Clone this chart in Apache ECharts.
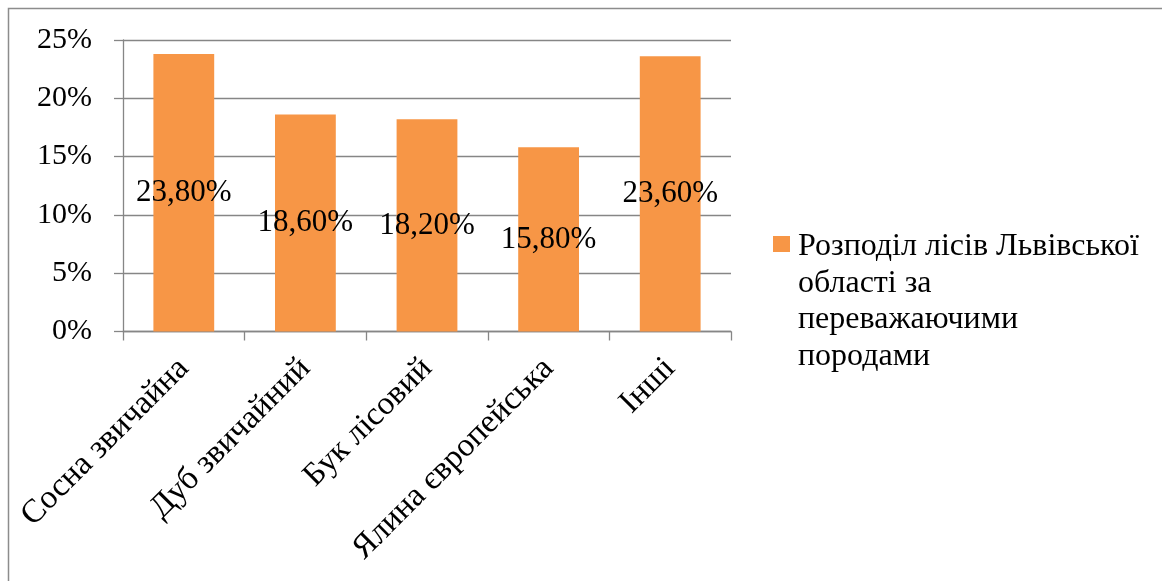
<!DOCTYPE html>
<html>
<head>
<meta charset="utf-8">
<script src="https://cdn.jsdelivr.net/npm/echarts@6/dist/echarts.min.js"></script>
<style>
html,body{margin:0;padding:0;background:#fff;}
#chart{width:1162px;height:581px;}
</style>
</head>
<body>
<div id="chart"></div>
<script>
const categories = ['Сосна звичайна', 'Дуб звичайний', 'Бук лісовий', 'Ялина європейська', 'Інші'];
const values = [23.8, 18.6, 18.2, 15.8, 23.6];
const seriesName = 'Розподіл лісів Львівської\nобласті за\nпереважаючими\nпородами';
const yTicks = { min: 0, max: 25, interval: 5 };

const FONT = "'Liberation Serif', 'Times New Roman', serif";
const chart = echarts.init(document.getElementById('chart'), null, { renderer: 'canvas' });
chart.setOption({
  animation: false,
  backgroundColor: '#ffffff',
  graphic: [{
    type: 'rect',
    shape: { x: 8.5, y: 8.5, width: 1200, height: 620 },
    style: { fill: 'none', stroke: '#8c8c8c', lineWidth: 1.5 },
    silent: true, z: -1
  }],
  grid: { left: 123, right: 431, top: 40, bottom: 249.5, containLabel: false },
  legend: {
    left: 773, top: 228,
    padding: 0,
    itemWidth: 17, itemHeight: 147,
    icon: 'path://M0 8H17V24H0Z M0 0H0.01V0.01H0Z M0 147H0.01V147.01H0Z',
    data: [seriesName],
    textStyle: { fontFamily: FONT, fontSize: 32, color: '#000', lineHeight: 36.7, padding: [0, 0, 0, 3] }
  },
  xAxis: {
    type: 'category',
    data: categories,
    axisLine: { lineStyle: { color: '#868686', width: 1.3 } },
    axisTick: { show: true, alignWithLabel: false, length: 9, lineStyle: { color: '#868686', width: 1.3 } },
    axisLabel: { rotate: 45, interval: 0, margin: 32, fontFamily: FONT, fontSize: 33, color: '#000' }
  },
  yAxis: {
    type: 'value',
    min: yTicks.min, max: yTicks.max, interval: yTicks.interval,
    axisLine: { show: true, lineStyle: { color: '#868686', width: 1.3 } },
    axisTick: { show: true, inside: false, length: 9, lineStyle: { color: '#868686', width: 1.3 } },
    splitLine: { show: true, lineStyle: { color: '#868686', width: 1.3 } },
    axisLabel: { margin: 31, fontFamily: FONT, fontSize: 30, color: '#000', formatter: '{value}%' }
  },
  series: [{
    name: seriesName,
    type: 'bar',
    data: values,
    barCategoryGap: '50%',
    itemStyle: { color: '#F79646' },
    label: {
      show: true, position: 'inside',
      fontFamily: FONT, fontSize: 31, color: '#000',
      formatter: p => p.value.toFixed(2).replace('.', ',') + '%'
    }
  }]
});
</script>
</body>
</html>
